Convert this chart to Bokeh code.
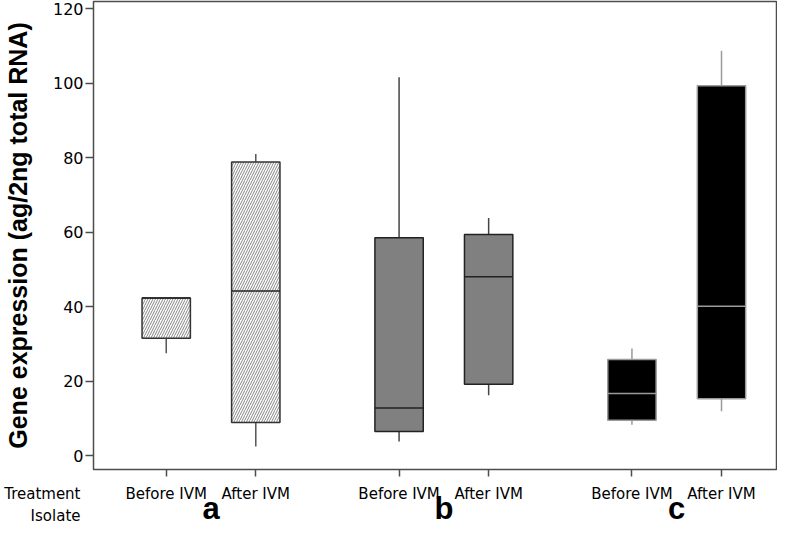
from bokeh.plotting import figure
from bokeh.models import FixedTicker, Range1d, ColumnDataSource
from bokeh.layouts import column
from bokeh.core.properties import value
from bokeh.embed import file_html
from bokeh.resources import INLINE

# ---- data ----
isolates = ["a", "b", "c"]
treatments = ["Before IVM", "After IVM"]
lower_whisker = [27.5, 2.5, 3.8, 16.2, 8.3, 11.9]
q1 = [31.5, 8.9, 6.5, 19.2, 9.5, 15.3]
median = [42.3, 44.2, 12.8, 48.0, 16.7, 40.1]
q3 = [42.3, 78.8, 58.5, 59.4, 25.8, 99.3]
upper_whisker = [42.3, 81.0, 101.6, 63.8, 28.8, 108.7]
y_ticks = [0, 20, 40, 60, 80, 100, 120]
row_titles = ["Treatment", "Isolate"]

# ---- layout constants ----
W = 777
H_MAIN = 477
H_BOTTOM = 48
FRAME_L = 93
X0, X1 = 0.188, 7.814
Y0, Y1 = -3.7, 121.9
GROUP_STEP = 2.6
BOX_W = 0.54

positions = [round(1 + g * GROUP_STEP + t, 2) for g in range(len(isolates)) for t in range(len(treatments))]
group_centers = [round(1 + g * GROUP_STEP + 0.5, 2) for g in range(len(isolates))]

styles = [
    dict(fill="white", hatch="/", line="#333333", med="#222222", wh="#555555"),
    dict(fill="#808080", hatch=" ", line="#222222", med="#222222", wh="#444444"),
    dict(fill="black", hatch=" ", line="#9a9a9a", med="#9a9a9a", wh="#9a9a9a"),
]

p = figure(width=W, height=H_MAIN, output_backend="svg", toolbar_location=None,
           x_range=Range1d(X0, X1), y_range=Range1d(Y0, Y1),
           min_border_left=FRAME_L, min_border_right=1, min_border_top=1, min_border_bottom=8)
p.grid.visible = False
p.outline_line_color = "#4d4d4d"
p.outline_line_width = 1.5

for g in range(len(isolates)):
    s = styles[g]
    idx = [g * 2 + t for t in range(len(treatments))]
    src = ColumnDataSource(dict(
        x=[positions[i] for i in idx],
        x0=[positions[i] - BOX_W / 2 for i in idx],
        x1=[positions[i] + BOX_W / 2 for i in idx],
        lo=[lower_whisker[i] for i in idx],
        q1=[q1[i] for i in idx],
        med=[median[i] for i in idx],
        q3=[q3[i] for i in idx],
        hi=[upper_whisker[i] for i in idx],
    ))
    p.segment(x0="x", y0="lo", x1="x", y1="q1", source=src, line_color=s["wh"], line_width=1.5)
    p.segment(x0="x", y0="q3", x1="x", y1="hi", source=src, line_color=s["wh"], line_width=1.5)
    p.vbar(x="x", width=BOX_W, bottom="q1", top="q3", source=src,
           fill_color=s["fill"], line_color=s["line"], line_width=1.5,
           hatch_pattern=s["hatch"], hatch_color="#666666", hatch_scale=5, hatch_weight=0.8)
    p.segment(x0="x0", y0="med", x1="x1", y1="med", source=src, line_color=s["med"], line_width=1.5)

# y axis
ya = p.yaxis[0]
ya.ticker = FixedTicker(ticks=y_ticks)
ya.axis_label = "Gene expression (ag/2ng total RNA)"
ya.axis_label_text_font = "Liberation Sans"
ya.axis_label_text_font_style = "bold"
ya.axis_label_text_font_size = "25px"
ya.axis_label_text_color = "black"
ya.axis_label_standoff = 18
ya.major_label_text_font = "DejaVu Sans"
ya.major_label_text_font_size = "16px"
ya.major_label_text_color = "black"
ya.major_label_standoff = 2
ya.major_tick_out = 8
ya.major_tick_in = 0
ya.minor_tick_line_color = None
ya.axis_line_color = "#4d4d4d"
ya.major_tick_line_color = "#4d4d4d"
ya.major_tick_line_width = 1.5

# x axis: ticks only, labels are drawn in the strip below
xa = p.xaxis[0]
xa.ticker = FixedTicker(ticks=positions)
xa.major_label_overrides = {pos: "" for pos in positions}
xa.major_label_text_font_size = "0px"
xa.major_label_standoff = 0
xa.major_tick_out = 7
xa.major_tick_in = 0
xa.minor_tick_line_color = None
xa.axis_line_color = "#4d4d4d"
xa.major_tick_line_color = "#4d4d4d"
xa.major_tick_line_width = 1.5

# ---- strip below the plot with the category texts, same x scale ----
scale = (W - FRAME_L - 1) / (X1 - X0)
x2_start = X0 - FRAME_L / scale
x2_end = X0 + (W - FRAME_L) / scale

p2 = figure(width=W, height=H_BOTTOM, output_backend="svg", toolbar_location=None,
            x_range=Range1d(x2_start, x2_end), y_range=Range1d(H_BOTTOM, 0),
            x_axis_location=None, y_axis_location=None,
            min_border_left=0, min_border_right=0, min_border_top=0, min_border_bottom=0)
p2.grid.visible = False
p2.outline_line_color = None
for fig in (p, p2):
    if "frame_align" in fig.properties():
        fig.frame_align = False

ROW1 = 16     # px from the top of the strip
ROW2 = 38
ROW3 = 31
title_x = x2_start + 80 / scale

p2.text(x=positions, y=[ROW1] * len(positions), text=[treatments[i % 2] for i in range(len(positions))],
        text_align="center", text_baseline="middle", text_font=value("DejaVu Sans"),
        text_font_size="15px", text_color="black")
p2.text(x=[title_x, title_x], y=[ROW1, ROW2], text=row_titles,
        text_align="right", text_baseline="middle", text_font=value("DejaVu Sans"),
        text_font_size="15px", text_color="black")
p2.text(x=group_centers, y=[ROW3] * len(group_centers), text=isolates,
        text_align="center", text_baseline="middle", text_font=value("Liberation Sans"),
        text_font_style="bold", text_font_size="31px", text_color="black")

layout = column(p, p2, spacing=0)
open("out.html", "w").write(file_html(layout, INLINE))
